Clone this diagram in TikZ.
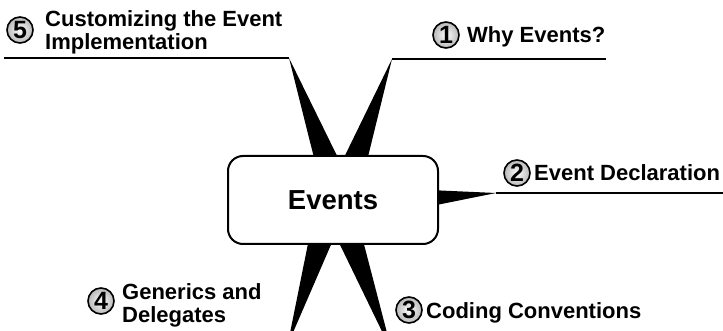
\documentclass[tikz,border=0pt]{standalone}
\usepackage{fontspec}
\setmainfont{Liberation Sans}
\usetikzlibrary{calc}
\begin{document}
\begin{tikzpicture}[x=1pt,y=-1pt,
  lbl/.style={font=\fontsize{22}{23}\selectfont\bfseries, inner sep=0pt, anchor=base west},
  num/.style={circle, draw, line width=1.6pt, minimum size=26pt, inner sep=0pt,
              inner color=white, outer color=black!28,
              font=\fontsize{25}{25}\selectfont\bfseries},
  branch/.style={line width=1.8pt},
  wedge/.style={fill=black},
  topic/.style={draw, line width=2pt, rounded corners=15pt, fill=white,
                minimum width=210pt, minimum height=88pt, inner sep=0pt,
                font=\fontsize{27.5}{30}\selectfont\bfseries}]
\useasboundingbox (0,0) rectangle (723,331);
\clip (0,0) rectangle (723,331);
% wedge bases and tips
\coordinate (b5) at (341,200); \coordinate (t5) at (289,58);
\coordinate (b1) at (341,200); \coordinate (t1) at (392,59);
\coordinate (b4) at (333,200); \coordinate (t4) at (287.6,345);
\coordinate (b3) at (336,200); \coordinate (t3) at (392,352);
\coordinate (b2) at (400,200.4); \coordinate (t2) at (496,193);
\coordinate (e5) at (4,58);
\coordinate (e1) at (606,59);
\coordinate (e2) at (723,193);
% wedges
\foreach \b/\t/\h in {b5/t5/16, b1/t1/16, b4/t4/16, b3/t3/16, b2/t2/11.8}{
  \fill[wedge] ($(\b)!\h pt!90:(\t)$) -- (\t) -- ($(\b)!\h pt!-90:(\t)$) -- cycle;
}
% branch lines
\draw[branch] (e5) -- (t5);
\draw[branch] (t1) -- (e1);
\draw[branch] (t2) -- (e2);
% central topic
\node[topic] (events) at (333,200) {Events};
% labels
\node[num] (n5) at (20,30) {5};
\node[lbl] (l5a) at (45,27) {Customizing the Event};
\node[lbl] (l5b) at (45,50) {Implementation};
\node[num] (n1) at (446,35) {1};
\node[lbl] (l1) at (467,43) {Why Events?};
\node[num] (n2) at (517,173) {2};
\node[lbl] (l2) at (534,181) {Event Declaration};
\node[num] (n3) at (409,310) {3};
\node[lbl] (l3) at (426,318) {Coding Conventions};
\node[num] (n4) at (101,301) {4};
\node[lbl] (l4a) at (122,299) {Generics and};
\node[lbl] (l4b) at (122,322) {Delegates};
\end{tikzpicture}
\end{document}
